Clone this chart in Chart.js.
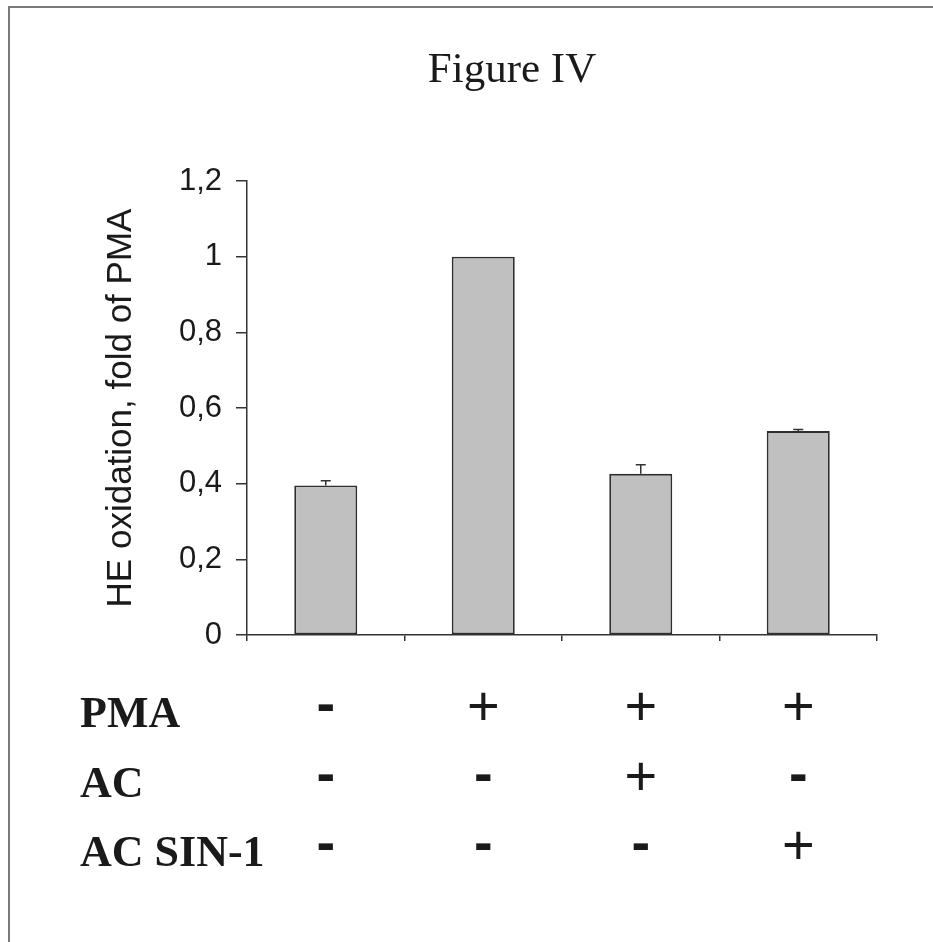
<!DOCTYPE html>
<html>
<head>
<meta charset="utf-8">
<script src="https://cdn.jsdelivr.net/npm/chart.js@4/dist/chart.umd.min.js"></script>
<style>
  html, body { margin: 0; padding: 0; background: #fff; }
  #wrap { position: relative; width: 933px; height: 942px; overflow: hidden; }
  #frame { position: absolute; left: 8px; top: 6px; right: -4px; bottom: -4px;
           border-left: 2px solid #7a7a7a; border-top: 2px solid #7a7a7a; }
  canvas { position: absolute; left: 0; top: 0; }
</style>
</head>
<body>
<div id="wrap">
  <div id="frame"></div>
  <canvas id="c" width="933" height="942"></canvas>
</div>
<script>
// ---- data ----
const chartTitle = 'Figure IV';
const yAxisTitle = 'HE oxidation, fold of PMA';
const categories = ['Control', 'PMA', 'PMA + AC', 'PMA + AC SIN-1'];
const values = [0.395, 1.0, 0.426, 0.539];
const errors = [0.013, 0, 0.024, 0.004];
const yMin = 0, yMax = 1.2, yStep = 0.2;
const rowLabels = ['PMA', 'AC', 'AC SIN-1'];
const rowPMA = ['-', '+', '+', '+'];
const rowAC = ['-', '-', '+', '-'];
const rowSIN = ['-', '-', '-', '+'];
const rows = [rowPMA, rowAC, rowSIN];

const INK = '#1a1a1a';

const decorPlugin = {
  id: 'decor',
  afterDatasetsDraw(chart) {
    const ctx = chart.ctx;
    const x = chart.scales.x, y = chart.scales.y;
    // error bars (upper only)
    ctx.save();
    ctx.strokeStyle = '#333';
    ctx.lineWidth = 1.5;
    values.forEach((v, i) => {
      if (!errors[i]) return;
      const cx = x.getPixelForValue(i);
      const y0 = y.getPixelForValue(v);
      const y1 = y.getPixelForValue(v + errors[i]);
      ctx.beginPath();
      ctx.moveTo(cx, y0); ctx.lineTo(cx, y1);
      ctx.moveTo(cx - 5, y1); ctx.lineTo(cx + 5, y1);
      ctx.stroke();
    });
    ctx.restore();
  },
  afterDraw(chart) {
    const ctx = chart.ctx;
    const x = chart.scales.x;
    ctx.save();
    // title
    ctx.fillStyle = INK;
    ctx.font = '43px "Liberation Serif", "Times New Roman", serif';
    ctx.textAlign = 'center';
    ctx.textBaseline = 'alphabetic';
    ctx.fillText(chartTitle, 512, 82);
    // condition rows
    const baselines = [727, 797, 866];
    rows.forEach((row, r) => {
      ctx.textAlign = 'left';
      ctx.font = 'bold 44px "Liberation Serif", "Times New Roman", serif';
      ctx.fillText(rowLabels[r], 80, baselines[r]);
      ctx.textAlign = 'center';
      row.forEach((s, i) => {
        const cx = x.getPixelForValue(i);
        ctx.font = (s === '-' ? 'bold ' : '') + '56px "Liberation Sans", Arial, sans-serif';
        ctx.fillText(s, cx, baselines[r] - (s === '-' ? 5 : 2));
      });
    });
    ctx.restore();
  }
};

new Chart(document.getElementById('c'), {
  type: 'bar',
  data: {
    labels: categories,
    datasets: [{
      data: values,
      backgroundColor: '#c0c0c0',
      borderColor: '#2e2e2e',
      borderWidth: 1.8,
      borderSkipped: false,
      barPercentage: 0.4,
      categoryPercentage: 1.0
    }]
  },
  options: {
    responsive: false,
    animation: false,
    devicePixelRatio: 1,
    layout: { padding: { left: 0, top: 181, right: 56, bottom: 287 } },
    plugins: { legend: { display: false }, tooltip: { enabled: false }, title: { display: false } },
    scales: {
      x: {
        grid: { display: true, drawOnChartArea: false, drawTicks: true, tickLength: 6, offset: true, color: '#333', lineWidth: 1.5 },
        border: { display: true, color: '#333', width: 1.5 },
        ticks: { display: false },
        afterFit(s) { s.height = 20; }
      },
      y: {
        min: yMin, max: yMax,
        grid: { display: true, drawOnChartArea: false, drawTicks: true, tickLength: 11, color: '#333', lineWidth: 1.5 },
        border: { display: true, color: '#333', width: 1.5 },
        ticks: {
          stepSize: yStep,
          padding: 14,
          color: INK,
          font: { family: '"Liberation Sans", Arial, sans-serif', size: 31 },
          callback: v => String(Math.round(v * 10) / 10).replace('.', ',')
        },
        title: {
          display: true,
          text: yAxisTitle,
          color: INK,
          font: { family: '"Liberation Sans", Arial, sans-serif', size: 35 },
          padding: { top: 100, bottom: 0 }
        },
        afterFit(s) { s.width = 247; }
      }
    }
  },
  plugins: [decorPlugin]
});
</script>
</body>
</html>
